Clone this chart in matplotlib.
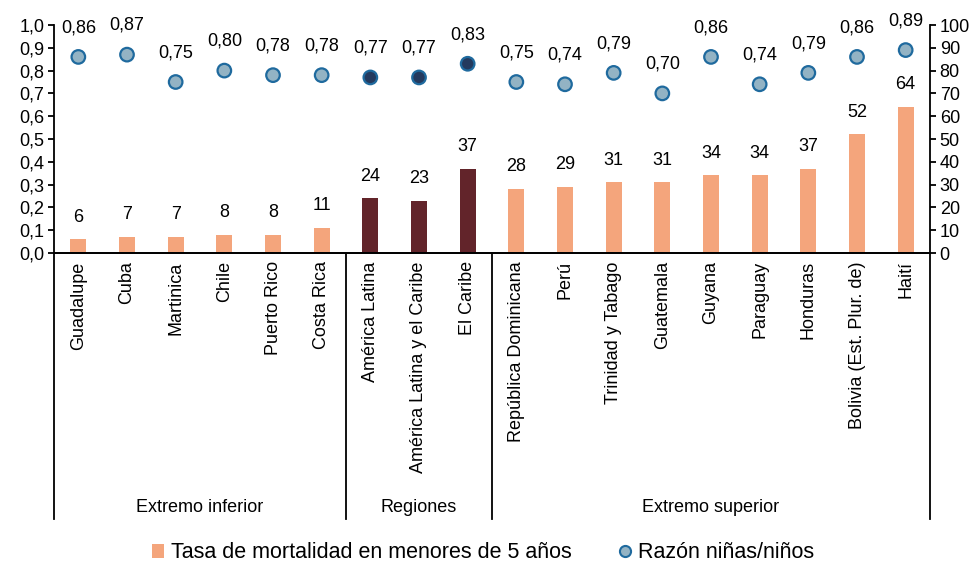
import matplotlib
matplotlib.use("Agg")
import matplotlib.pyplot as plt
from matplotlib.lines import Line2D
from matplotlib.patches import Patch
import numpy as np

plt.rcParams['font.family'] = ['Liberation Sans', 'DejaVu Sans']

categories = ["Guadalupe", "Cuba", "Martinica", "Chile", "Puerto Rico", "Costa Rica",
              "América Latina", "América Latina y el Caribe", "El Caribe",
              "República Dominicana", "Perú", "Trinidad y Tabago", "Guatemala",
              "Guyana", "Paraguay", "Honduras", "Bolivia (Est. Plur. de)", "Haití"]
mortality = [6, 7, 7, 8, 8, 11, 24, 23, 37, 28, 29, 31, 31, 34, 34, 37, 52, 64]
ratio = [0.86, 0.87, 0.75, 0.80, 0.78, 0.78, 0.77, 0.77, 0.83, 0.75, 0.74, 0.79,
         0.70, 0.86, 0.74, 0.79, 0.86, 0.89]
groups = ["Extremo inferior", "Regiones", "Extremo superior"]
group_sizes = [6, 3, 9]
left_ticks = [0.0, 0.1, 0.2, 0.3, 0.4, 0.5, 0.6, 0.7, 0.8, 0.9, 1.0]
right_ticks = [0, 10, 20, 30, 40, 50, 60, 70, 80, 90, 100]

bar_light = "#F4A57C"
bar_dark = "#62242A"
mk_light = "#93B3C4"
mk_dark = "#243A5E"
mk_edge = "#1F6A9E"

FS = 13

fig = plt.figure(figsize=(9.74, 5.64), dpi=100)
ax = fig.add_axes([54/974, 1-253/564, (930-54)/974, 228/564])
ax2 = ax.twinx()
ax.set_zorder(ax2.get_zorder() + 1)
ax.patch.set_visible(False)

n = len(categories)
x = np.arange(n)
is_region = [False]*6 + [True]*3 + [False]*9
bcolors = [bar_dark if r else bar_light for r in is_region]
mcolors = [mk_dark if r else mk_light for r in is_region]

ax2.bar(x, mortality, width=0.33, color=bcolors, zorder=2)
for xi, v in zip(x, mortality):
    ax2.annotate(f"{v}", (xi, v), xytext=(0, 16), textcoords="offset points",
                 ha="center", va="center", fontsize=FS)

ax.scatter(x, ratio, s=95, c=mcolors, edgecolors=mk_edge, linewidths=1.6, zorder=3)
for xi, v in zip(x, ratio):
    ax.annotate(f"{v:.2f}".replace(".", ","), (xi, v), xytext=(0, 21),
                textcoords="offset points", ha="center", va="center", fontsize=FS)

ax.set_xlim(-0.5, n - 0.5)
ax.set_ylim(0, 1.0)
ax2.set_ylim(0, 100)
ax.set_yticks(left_ticks)
ax.set_yticklabels([f"{t:.1f}".replace(".", ",") for t in left_ticks], fontsize=FS)
ax2.set_yticks(right_ticks)
ax2.set_yticklabels([str(t) for t in right_ticks], fontsize=FS)

for a in (ax, ax2):
    a.spines["top"].set_visible(False)
    for s in ("left", "right", "bottom"):
        a.spines[s].set_linewidth(1.3)
        a.spines[s].set_color("black")
    a.tick_params(axis="y", direction="out", length=4, width=1.3, pad=3)
ax.spines["right"].set_visible(False)
ax2.spines["left"].set_visible(False)

ax.set_xticks(x)
ax.set_xticklabels(categories, rotation=90, fontsize=FS, va="top", ha="center")
ax.tick_params(axis="x", length=0, pad=6)

# group separators and group labels
bottom_y = -(519 - 253) / 228
bounds = [-0.5]
for gs in group_sizes:
    bounds.append(bounds[-1] + gs)
trans = ax.get_xaxis_transform()
for b in bounds:
    ax.add_line(Line2D([b, b], [0, bottom_y], transform=trans, color="black",
                       linewidth=1.3, clip_on=False))
label_y = -(507 - 253) / 228
for g, b0, b1 in zip(groups, bounds[:-1], bounds[1:]):
    ax.text((b0 + b1) / 2, label_y, g, transform=trans, ha="center", va="center",
            fontsize=FS)

handles = [Patch(facecolor=bar_light, edgecolor="none"),
           Line2D([], [], marker="o", linestyle="none", markersize=8,
                  markerfacecolor=mk_light, markeredgecolor=mk_edge, markeredgewidth=1.5)]
fig.legend(handles, ["Tasa de mortalidad en menores de 5 años", "Razón niñas/niños"],
           loc="center", bbox_to_anchor=(483/974, 1-553/564), ncol=2, frameon=False,
           fontsize=15.5, handlelength=0.6, handletextpad=0.3, columnspacing=2.2,
           handleheight=0.6, borderpad=0)

fig.savefig("out.png", dpi=100)
